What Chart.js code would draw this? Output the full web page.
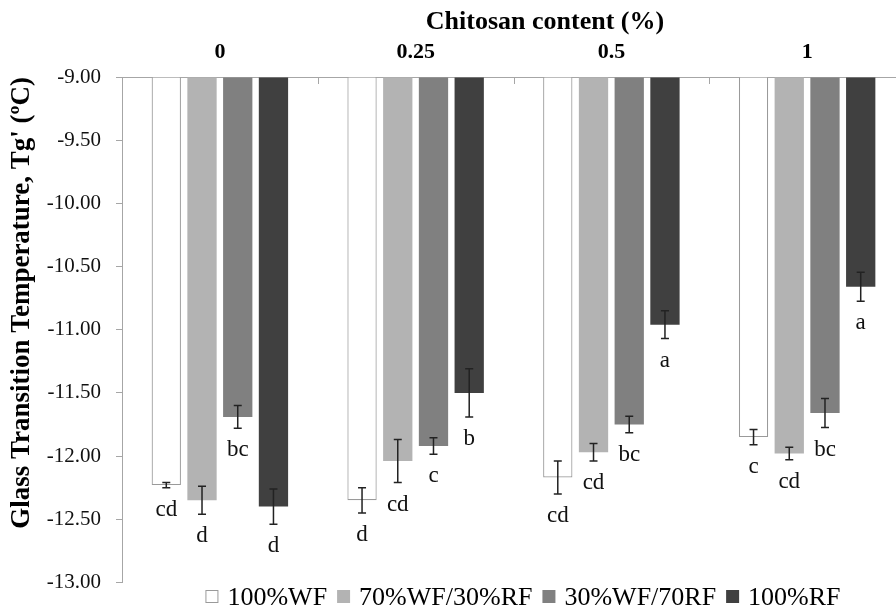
<!DOCTYPE html>
<html>
<head>
<meta charset="utf-8">
<script src="https://cdn.jsdelivr.net/npm/chart.js@4.4.0/dist/chart.umd.min.js"></script>
<style>
  html, body { margin: 0; padding: 0; background: #fff; overflow: hidden; }
  #wrap { width: 905px; height: 610px; }
</style>
</head>
<body>
<div id="wrap"><canvas id="chart"></canvas></div>
<script>
// Data
const categories = ['0', '0.25', '0.5', '1'];
const seriesNames = ['100%WF', '70%WF/30%RF', '30%WF/70RF', '100%RF'];

const wf100 = [-12.23, -12.35, -12.17, -11.85];
const wf70 = [-12.35, -12.04, -11.97, -11.98];
const wf30 = [-11.69, -11.92, -11.75, -11.66];
const rf100 = [-12.40, -11.50, -10.96, -10.66];

const wf100Err = [0.02, 0.10, 0.13, 0.06];
const wf70Err = [0.11, 0.17, 0.07, 0.05];
const wf30Err = [0.09, 0.065, 0.065, 0.115];
const rf100Err = [0.14, 0.19, 0.11, 0.115];

const wf100Letters = ['cd', 'd', 'cd', 'c'];
const wf70Letters = ['d', 'cd', 'cd', 'cd'];
const wf30Letters = ['bc', 'c', 'bc', 'bc'];
const rf100Letters = ['d', 'b', 'a', 'a'];

const yTicks = [-9, -9.5, -10, -10.5, -11, -11.5, -12, -12.5, -13];

const errors = [wf100Err, wf70Err, wf30Err, rf100Err];
const letters = [wf100Letters, wf70Letters, wf30Letters, rf100Letters];

const FONT = 'Liberation Serif, Tinos, Times New Roman, DejaVu Serif, Noto Serif, serif';
const AXIS_GRAY = '#a6a6a6';

// Error bars, letters, inner ticks, title, legend
const extras = {
    id: 'extras',
    afterDatasetsDraw(chart) {
        const { ctx, scales: { x, y } } = chart;
        ctx.save();
        chart.data.datasets.forEach((ds, di) => {
            const meta = chart.getDatasetMeta(di);
            meta.data.forEach((bar, i) => {
                const v = ds.data[i];
                const e = errors[di][i];
                const yTop = y.getPixelForValue(v + e);
                const yBot = y.getPixelForValue(v - e);
                ctx.strokeStyle = '#222';
                ctx.lineWidth = 1.5;
                ctx.beginPath();
                ctx.moveTo(bar.x, yTop); ctx.lineTo(bar.x, yBot);
                ctx.moveTo(bar.x - 4, yTop); ctx.lineTo(bar.x + 4, yTop);
                ctx.moveTo(bar.x - 4, yBot); ctx.lineTo(bar.x + 4, yBot);
                ctx.stroke();

                ctx.fillStyle = '#111';
                ctx.font = '23px ' + FONT;
                ctx.textAlign = 'center';
                ctx.textBaseline = 'middle';
                ctx.fillText(letters[di][i], bar.x, yBot + 22);
            });
        });

        // small inward ticks on the top axis between categories
        ctx.strokeStyle = AXIS_GRAY;
        ctx.lineWidth = 1;
        ctx.beginPath();
        for (let i = 0; i < categories.length; i++) {
            const bx = Math.round((x.getPixelForValue(i) + x.getPixelForValue(i + 1)) / 2) + 0.5;
            ctx.moveTo(bx, chart.chartArea.top);
            ctx.lineTo(bx, chart.chartArea.top + 7);
        }
        ctx.stroke();
        ctx.restore();
    },
    afterDraw(chart) {
        const { ctx } = chart;
        ctx.save();
        // top axis title
        ctx.fillStyle = '#000';
        ctx.font = 'bold 26px ' + FONT;
        ctx.textAlign = 'center';
        ctx.textBaseline = 'middle';
        ctx.fillText('Chitosan content (%)', 545, 22);

        // legend
        ctx.font = '26px ' + FONT;
        ctx.textAlign = 'left';
        ctx.textBaseline = 'alphabetic';
        const box = 13, gapBox = 9, gapItem = 10;
        const items = chart.data.datasets.map(ds => ({
            label: ds.label, fill: ds.backgroundColor, border: ds.borderColor,
            w: box + gapBox + ctx.measureText(ds.label).width
        }));
        const total = items.reduce((a, it) => a + it.w, 0) + gapItem * (items.length - 1);
        let lx = 523 - total / 2;
        const baseY = 605;
        items.forEach(it => {
            ctx.fillStyle = it.fill;
            ctx.fillRect(lx, baseY - 15, box, box);
            if (it.fill === '#ffffff') {
                ctx.strokeStyle = it.border;
                ctx.lineWidth = 1;
                ctx.strokeRect(lx + 0.5, baseY - 14.5, box - 1, box - 1);
            }
            ctx.fillStyle = '#000';
            ctx.fillText(it.label, lx + box + gapBox, baseY);
            lx += it.w + gapItem;
        });
        ctx.restore();
    }
};

const barCommon = { base: -9, categoryPercentage: 0.73, barPercentage: 0.82, borderSkipped: 'start' };

new Chart(document.getElementById('chart'), {
    type: 'bar',
    data: {
        labels: categories,
        datasets: [
            { label: seriesNames[0], data: wf100, backgroundColor: '#ffffff', borderColor: '#9a9a9a', borderWidth: 1.2, ...barCommon },
            { label: seriesNames[1], data: wf70, backgroundColor: '#b3b3b3', borderColor: '#b3b3b3', borderWidth: 0, ...barCommon },
            { label: seriesNames[2], data: wf30, backgroundColor: '#808080', borderColor: '#808080', borderWidth: 0, ...barCommon },
            { label: seriesNames[3], data: rf100, backgroundColor: '#404040', borderColor: '#404040', borderWidth: 0, ...barCommon }
        ]
    },
    options: {
        responsive: true,
        maintainAspectRatio: false,
        animation: false,
        layout: { padding: { top: 0, left: 0, right: 0, bottom: 21 } },
        plugins: {
            legend: { display: false },
            tooltip: { enabled: false }
        },
        scales: {
            x: {
                position: 'top',
                grid: { display: false },
                border: { display: true, color: AXIS_GRAY, width: 1 },
                ticks: { color: '#000', padding: 3, font: { family: FONT, size: 22, weight: 'bold' } },
                afterFit: s => { s.height = 77; }
            },
            y: {
                min: -13,
                max: -9,
                afterBuildTicks: s => { s.ticks = yTicks.map(v => ({ value: v })); },
                grid: { drawOnChartArea: false, drawTicks: true, tickLength: 6, color: AXIS_GRAY },
                border: { display: true, color: AXIS_GRAY, width: 1 },
                ticks: {
                    color: '#111',
                    padding: 15,
                    font: { family: FONT, size: 21 },
                    callback: v => Number(v).toFixed(2)
                },
                title: {
                    display: true,
                    text: "Glass Transition Temperature, Tg' (ºC)",
                    align: 'end',
                    color: '#000',
                    padding: { top: 6, bottom: 0 },
                    font: { family: FONT, size: 27, weight: 'bold' }
                },
                afterFit: s => { s.width = 122; }
            }
        }
    },
    plugins: [extras]
});
</script>
</body>
</html>
